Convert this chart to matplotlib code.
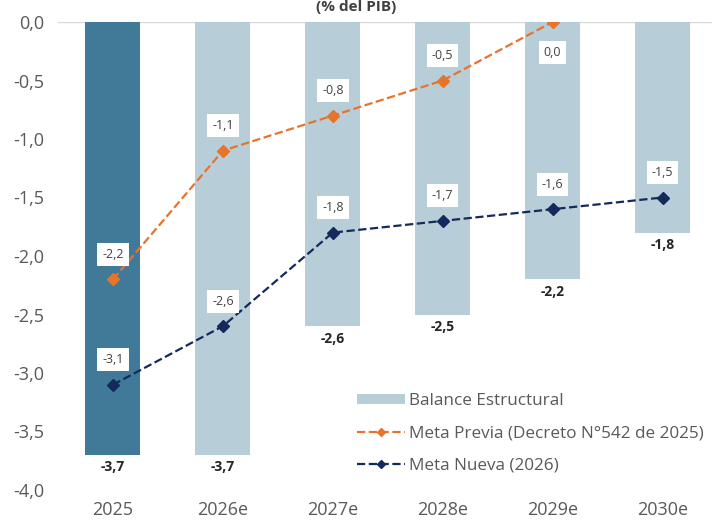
import matplotlib.pyplot as plt
from matplotlib.patches import Patch
from matplotlib.lines import Line2D

plt.rcParams['font.family'] = ['Open Sans', 'DejaVu Sans']

years = ["2025", "2026e", "2027e", "2028e", "2029e", "2030e"]
balance = [-3.7, -3.7, -2.6, -2.5, -2.2, -1.8]
meta_previa = [-2.2, -1.1, -0.8, -0.5, 0.0]
meta_nueva = [-3.1, -2.6, -1.8, -1.7, -1.6, -1.5]

c_dark = "#417a99"
c_light = "#b7cdd8"
c_orange = "#e8732a"
c_navy = "#152a5c"
c_text = "#595959"


def fmt(v):
    return ("%.1f" % v).replace(".", ",")


fig = plt.figure(figsize=(7.12, 5.2), dpi=100)
ax = fig.add_axes([58 / 712, 30 / 520, 654 / 712, 468 / 520])

x = list(range(len(years)))
colors = [c_dark] + [c_light] * (len(years) - 1)
ax.bar(x, balance, width=0.5, color=colors, zorder=2)
ax.plot(x[:len(meta_previa)], meta_previa, ls="--", color=c_orange, lw=1.6,
        marker="D", ms=6.5, zorder=4)
ax.plot(x, meta_nueva, ls="--", color=c_navy, lw=1.6,
        marker="D", ms=6.5, zorder=4)

# bar labels
for i, v in enumerate(balance):
    ax.annotate(fmt(v), (i, v), xytext=(0, -4), textcoords="offset points",
                ha="center", va="top", fontsize=10, fontweight="bold", color="#262626")

box = dict(boxstyle="square,pad=0.4", fc="white", ec="none")
for i, v in enumerate(meta_previa):
    dy = -22 if v == 0.0 else 18
    ax.annotate(fmt(v), (i, v), xytext=(0, dy), textcoords="offset points",
                ha="center", va="center", fontsize=9, color="#404040", bbox=box, zorder=5)
for i, v in enumerate(meta_nueva):
    ax.annotate(fmt(v), (i, v), xytext=(0, 18), textcoords="offset points",
                ha="center", va="center", fontsize=9, color="#404040", bbox=box, zorder=5)

ax.set_xlim(-0.5, 5.45)
ax.set_ylim(-4.0, 0.0)
ax.set_yticks([0, -0.5, -1, -1.5, -2, -2.5, -3, -3.5, -4])
ax.set_yticklabels([fmt(t) for t in ax.get_yticks()])
ax.set_xticks(x)
ax.set_xticklabels(years)
ax.tick_params(length=0, labelsize=13, labelcolor=c_text)
ax.tick_params(axis="x", pad=8)
ax.tick_params(axis="y", pad=10)
for s in ax.spines.values():
    s.set_visible(False)
ax.axhline(0, color="#d9d9d9", lw=1, zorder=1)

handles = [
    Patch(facecolor=c_light, edgecolor="none"),
    Line2D([], [], ls="--", color=c_orange, lw=1.6, marker="D", ms=4.5),
    Line2D([], [], ls="--", color=c_navy, lw=1.6, marker="D", ms=4.5),
]
labels = ["Balance Estructural", "Meta Previa (Decreto N°542 de 2025)", "Meta Nueva (2026)"]
fig.legend(handles, labels, loc="upper left", bbox_to_anchor=(342 / 712, 1 - 378 / 520),
           frameon=False, fontsize=12.3, labelcolor=c_text, handlelength=2.8,
           handleheight=0.55, handletextpad=0.2, labelspacing=0.95)

fig.text(0.5, 1.0, "(% del PIB)", ha="center", va="top", fontsize=11,
         fontweight="bold", color="#404040")

fig.savefig("out.png", dpi=100)
